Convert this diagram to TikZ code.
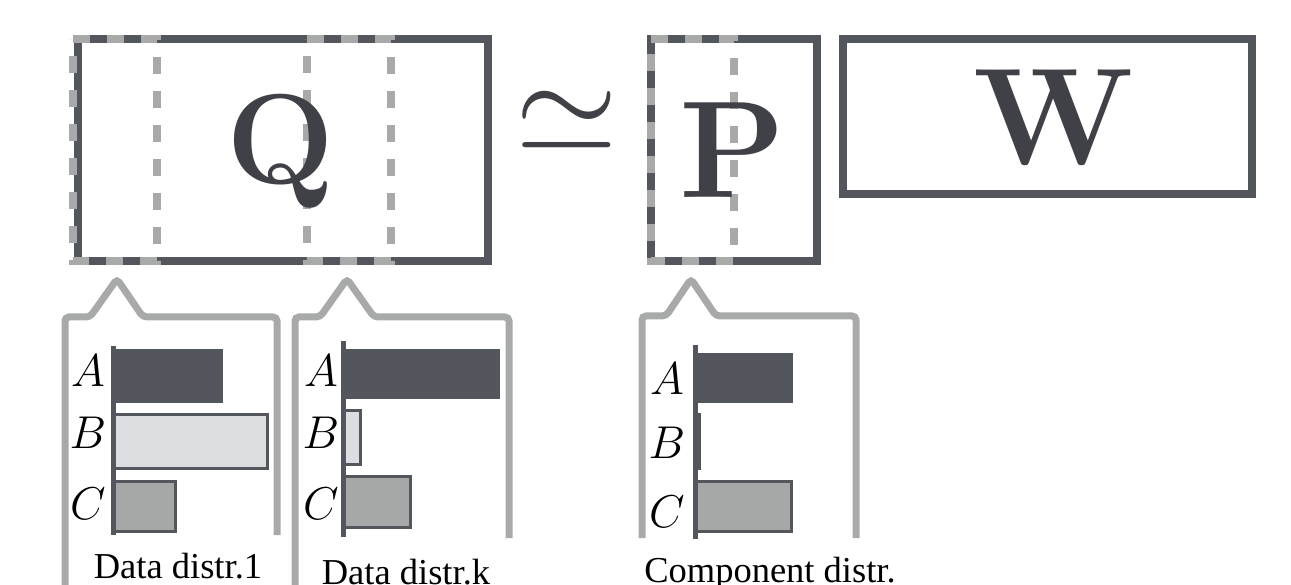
\RequirePackage{fix-cm}
\documentclass[tikz,border=0pt]{standalone}
\usepackage{fontspec}
\newfontfamily\lab{Liberation Serif}
\definecolor{dk}{HTML}{53565C}
\definecolor{ink}{HTML}{3F4147}
\definecolor{lg}{HTML}{A8AAAA}
\definecolor{bfill}{HTML}{DCDDE0}
\definecolor{cfill}{HTML}{A6A8A8}
\begin{document}
\begin{tikzpicture}[x=1pt,y=-1pt,
  frame/.style={draw=dk,line width=8.5pt,inner sep=0pt},
  colframe/.style={draw=lg,line width=8pt,dash pattern=on 17pt off 17pt},
  callout/.style={draw=lg,line width=7pt,rounded corners=4pt},
  axisline/.style={draw=dk,line width=5pt},
  bardark/.style={fill=dk,draw=dk,line width=3pt},
  barlight/.style={fill=bfill,draw=dk,line width=3pt},
  barmid/.style={fill=cfill,draw=dk,line width=3pt},
  big/.style={anchor=base,inner sep=0pt,text=ink,font=\fontsize{138}{138}\selectfont\bfseries},
  lbl/.style={anchor=base,inner sep=0pt,font=\fontsize{46}{46}\selectfont},
  captxt/.style={anchor=base,inner sep=0pt,font=\lab\fontsize{36.5}{36.5}\selectfont}
]
\useasboundingbox (0,0) rectangle (1291,585);
% frames
\node[frame,minimum width=410pt,minimum height=222pt] (Qbox) at (283,150) {};
\node[frame,minimum width=166pt,minimum height=222pt] (Pbox) at (734,150) {};
\node[frame,minimum width=409pt,minimum height=155pt] (Wbox) at (1047.5,116.5) {};
% column outlines
\coordinate (c1a) at (73,39);  \coordinate (c1b) at (157,261);
\coordinate (cka) at (307,39); \coordinate (ckb) at (391,261);
\coordinate (cpa) at (651,39); \coordinate (cpb) at (734,261);
\draw[colframe] (c1a) -- (c1a -| c1b) -- (c1b) -- (c1b -| c1a) -- cycle;
\draw[colframe] (cka) -- (cka -| ckb) -- (ckb) -- (ckb -| cka) -- cycle;
\draw[colframe] (cpa) -- (cpa -| cpb) -- (cpb) -- (cpb -| cpa) -- cycle;
% letters
\node[big,font=\fontsize{128}{128}\selectfont\bfseries] (Q) at (281,184) {Q};
\node[big] (P) at (733,198) {P};
\node[big] (W) at (1054,165) {W};
\node[anchor=base,inner sep=0pt,text=ink,font=\fontsize{132}{132}\selectfont] (sim) at (567,153) {$\simeq$};
% callouts
\coordinate (k1) at (117,279);
\coordinate (kk) at (347,279);
\coordinate (kp) at (691,279);
\draw[callout] (65,590) -- (65,317) -- (90,317) -- (k1) -- (143,317) -- (277,317) -- (277,535);
\draw[callout] (295,590) -- (295,317) -- (320,317) -- (kk) -- (374,317) -- (509,317) -- (509,538);
\draw[callout] (642,538) -- (642,316) -- (666,316) -- (kp) -- (716,316) -- (856,316) -- (856,538);
% data distr 1
\draw[bardark] (114.5,350.5) rectangle (221.5,401.5);
\draw[barlight] (114,414.5) rectangle (267.5,468.5);
\draw[barmid] (114,481.5) rectangle (175.5,531.5);
\draw[axisline] (113.5,346) -- (113.5,535);
\node[lbl] (a1) at (88,387) {$A$};
\node[lbl] (b1) at (88,448) {$B$};
\node[lbl] (cc1) at (88,519) {$C$};
% data distr k
\draw[bardark] (344,350.5) rectangle (498.5,397.5);
\draw[barlight] (344,410.5) rectangle (360.5,464.5);
\draw[barmid] (344,476.5) rectangle (410.5,527.5);
\draw[axisline] (343.5,341) -- (343.5,537);
\node[lbl] (ak) at (321,387) {$A$};
\node[lbl] (bk) at (321,448) {$B$};
\node[lbl] (cck) at (321,519) {$C$};
% component
\draw[bardark] (695,354.5) rectangle (791.5,401.5);
\fill[dk] (695,413) rectangle (701,470);
\draw[barmid] (695,481.5) rectangle (791.5,531.5);
\draw[axisline] (695,345) -- (695,539);
\node[lbl] (ap) at (667,395) {$A$};
\node[lbl] (bp) at (667,458) {$B$};
\node[lbl] (ccp) at (667,527) {$C$};
% captions
\node[captxt] (t1) at (178,578) {Data distr.1};
\node[captxt] (tk) at (406,584) {Data distr.k};
\node[captxt] (tp) at (770,582) {Component distr.};
\end{tikzpicture}
\end{document}
